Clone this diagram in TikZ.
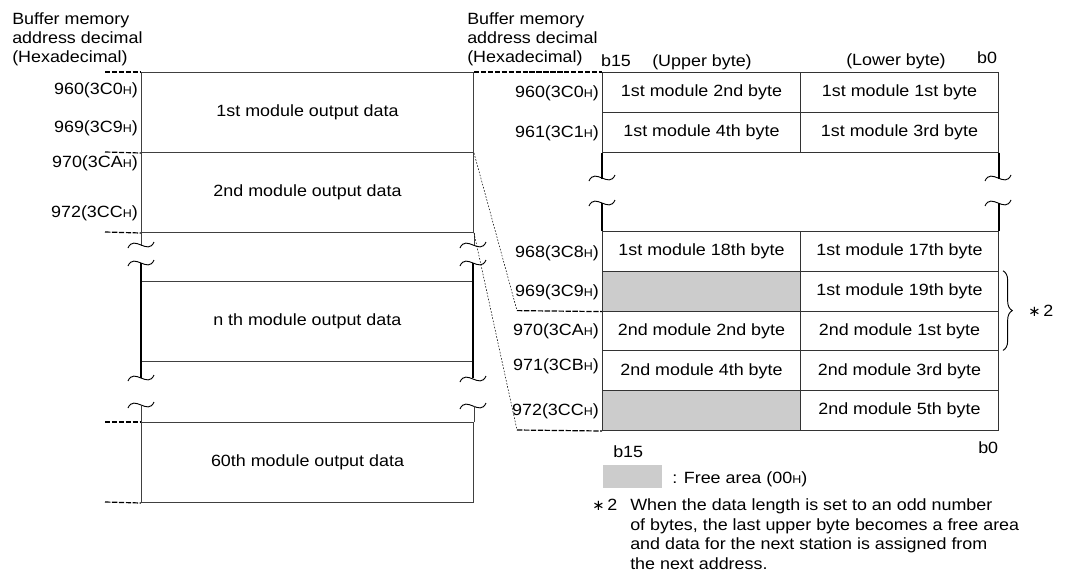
\documentclass[tikz,border=0pt]{standalone}
\usepackage{fontspec}
\setmainfont{Liberation Sans}[FakeStretch=1.1]
\newfontfamily\symfont{DejaVu Sans}
\usetikzlibrary{decorations.pathreplacing}
\newcommand{\hx}{{\fontsize{8.5pt}{9pt}\selectfont H}}
\newcommand{\astr}{{\symfont\fontsize{11pt}{12pt}\selectfont ∗}}
\tikzset{
  every node/.style={font=\fontsize{12.2pt}{14.5pt}\selectfont, inner sep=0pt, text=black},
  blk/.style={draw=black!75, line width=0.75pt, minimum width=249pt, minimum height=60pt, anchor=north west},
  blkopen/.style={minimum width=249pt, minimum height=60pt, anchor=north west},
  cell/.style={draw=black!80, line width=0.75pt, minimum width=148.5pt, minimum height=29.85pt, anchor=north west},
  freecell/.style={cell, fill=black!20},
  ln/.style={draw=black!75, line width=0.75pt},
  thk/.style={draw=black, line width=1.5pt},
  addr/.style={anchor=east},
  lbl/.style={anchor=base west},
  lead/.style={draw=black, line width=0.9pt, dash pattern=on 4pt off 1.2pt},
  guide/.style={draw=black, line width=0.4pt, dash pattern=on 1.2pt off 1.2pt},
  brk/.style={draw=black, line width=0.7pt},
  tilde/.pic={\draw[brk] (-13,3) .. controls (-7,-11) and (7,11) .. (13,-3);}
}
\begin{document}
\begin{tikzpicture}[x=0.75pt,y=-0.75pt]
\useasboundingbox (0,0) rectangle (1072,579);

% ---------- headers ----------
\node[lbl] (hL1) at (12,24) {Buffer memory};
\node[lbl] (hL2) at (12,43.3) {address decimal};
\node[lbl] (hL3) at (12,62.7) {(Hexadecimal)};
\node[lbl] (hR1) at (467,24) {Buffer memory};
\node[lbl] (hR2) at (467,43.3) {address decimal};
\node[lbl] (hR3) at (467,62.7) {(Hexadecimal)};

% ---------- left block ----------
\node[blk] (m1) at (141,72) {1st module output data};
\node[blk] (m2) at (141,152) {2nd module output data};
\node[blkopen] (mn) at (141,281) {n th module output data};
\node[blk] (m60) at (141,422) {60th module output data};

\draw[ln] (m2.south west) -- ++(0,13);
\draw[ln] (m2.south east) -- ++(0,13);
\pic at (141,245) {tilde};
\pic at (473,245) {tilde};
\pic at (141,263) {tilde};
\pic at (473,263) {tilde};
\draw[ln] (mn.north west) -- (mn.north east);
\draw[ln] (mn.south west) -- (mn.south east);
\draw[thk] (141,263) -- (141,378);
\draw[thk] (473,263) -- (473,378);
\pic at (141,378) {tilde};
\pic at (473,379) {tilde};
\pic at (141,405) {tilde};
\pic at (473,406) {tilde};
\draw[ln] (m60.north west) -- ++(0,-16);
\draw[ln] (m60.north east) -- ++(0,-16);

% left addresses
\node[addr] (a960) at (138,90) {960(3C0\hx)};
\node[addr] (a969) at (138,128) {969(3C9\hx)};
\node[addr] (a970) at (138,163) {970(3CA\hx)};
\node[addr] (a972) at (138,213) {972(3CC\hx)};

% left leader dashes
\coordinate (d1) at (105,72);
\coordinate (d2) at (105,152);
\coordinate (d3) at (105,232);
\coordinate (d4) at (105,422);
\coordinate (d5) at (105,502);
\draw[lead] (d1) -- (m1.north west);
\draw[lead] (d2) -- (m1.south west);
\draw[lead] (d3) -- (m2.south west);
\draw[lead] (d4) -- (m60.north west);
\draw[lead] (d5) -- (m60.south west);

% ---------- right table ----------
\node[anchor=base] (b15t) at (616,66) {b15};
\node[anchor=base] (upb) at (702,66.5) {(Upper byte)};
\node[anchor=base] (lob) at (896,65.5) {(Lower byte)};
\node[anchor=base] (b0t) at (987,63) {b0};

\node[cell] (r1u) at (602,72) {1st module 2nd byte};
\node[cell] (r1l) at (800,72) {1st module 1st byte};
\node[cell] (r2u) at (602,111.8) {1st module 4th byte};
\node[cell] (r2l) at (800,111.8) {1st module 3rd byte};

\draw[thk] (r2u.south west) -- ++(0,26);
\draw[thk] (r2l.south east) -- ++(0,26);
\pic at (602,178) {tilde};
\pic at (998,178) {tilde};
\pic at (602,203) {tilde};
\pic at (998,203) {tilde};

\node[cell] (r3u) at (602,231) {1st module 18th byte};
\node[cell] (r3l) at (800,231) {1st module 17th byte};
\node[freecell] (r4u) at (602,270.8) {};
\node[cell] (r4l) at (800,270.8) {1st module 19th byte};
\node[cell] (r5u) at (602,310.6) {2nd module 2nd byte};
\node[cell] (r5l) at (800,310.6) {2nd module 1st byte};
\node[cell] (r6u) at (602,350.4) {2nd module 4th byte};
\node[cell] (r6l) at (800,350.4) {2nd module 3rd byte};
\node[freecell] (r7u) at (602,390.2) {};
\node[cell] (r7l) at (800,390.2) {2nd module 5th byte};

\draw[thk] (r3u.north west) -- ++(0,-28);
\draw[thk] (r3l.north east) -- ++(0,-28);

% right addresses
\node[addr] (b960) at (599,93) {960(3C0\hx)};
\node[addr] (b961) at (599,133) {961(3C1\hx)};
\node[addr] (b968) at (599,253) {968(3C8\hx)};
\node[addr] (b969) at (599,292) {969(3C9\hx)};
\node[addr] (b970) at (599,331) {970(3CA\hx)};
\node[addr] (b971) at (599,366) {971(3CB\hx)};
\node[addr] (b972) at (599,411) {972(3CC\hx)};

% connecting leaders
\coordinate (c1) at (517,310.6);
\coordinate (c2) at (517,430);
\draw[lead] (m1.north east) -- (r1u.north west);
\draw[guide] (m1.south east) -- (c1);
\draw[lead] (c1) -- (r4u.south west);
\draw[guide] (m2.south east) -- (c2);
\draw[lead] (c2) -- (r7u.south west);

% brace
\draw[brk, decorate, decoration={brace, amplitude=7pt}] (1003,270.8) -- (1003,350.4);
\node[anchor=base west] (star2) at (1028,316) {\astr\,2};

% bottom labels
\node[lbl] (b15b) at (613,457) {b15};
\node[lbl] (b0b) at (978,453) {b0};
\node[fill=black!20, minimum width=44.25pt, minimum height=17.25pt, anchor=north west] (legend) at (603,465) {};
\node[lbl] (freetxt) at (672,483) {: Free area (00\hx)};

\node[lbl] (nstar) at (592,510.7) {\astr\,2};
\node[lbl] (n1) at (630,510.7) {When the data length is set to an odd number};
\node[lbl] (n2) at (630,530.2) {of bytes, the last upper byte becomes a free area};
\node[lbl] (n3) at (630,549.7) {and data for the next station is assigned from};
\node[lbl] (n4) at (630,569.2) {the next address.};
\end{tikzpicture}
\end{document}
